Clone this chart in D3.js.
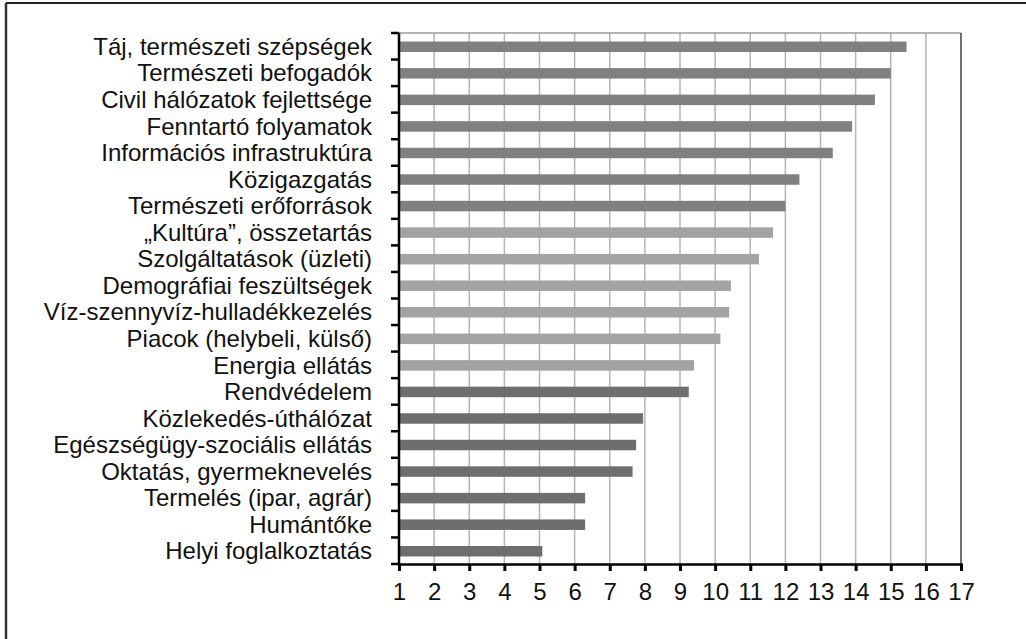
<!DOCTYPE html>
<html>
<head>
<meta charset="utf-8">
<script src="https://cdn.jsdelivr.net/npm/d3@7"></script>
<style>
  body { margin: 0; background: #fff; }
  text { font-family: "Liberation Sans", Arial, sans-serif; fill: #111; }
</style>
</head>
<body>
<svg id="chart" width="1026" height="639"></svg>
<script>
  const categories = [
    "Táj, természeti szépségek",
    "Természeti befogadók",
    "Civil hálózatok fejlettsége",
    "Fenntartó folyamatok",
    "Információs infrastruktúra",
    "Közigazgatás",
    "Természeti erőforrások",
    "„Kultúra”, összetartás",
    "Szolgáltatások (üzleti)",
    "Demográfiai feszültségek",
    "Víz-szennyvíz-hulladékkezelés",
    "Piacok (helybeli, külső)",
    "Energia ellátás",
    "Rendvédelem",
    "Közlekedés-úthálózat",
    "Egészségügy-szociális ellátás",
    "Oktatás, gyermeknevelés",
    "Termelés (ipar, agrár)",
    "Humántőke",
    "Helyi foglalkoztatás"
  ];
  const values = [15.45, 15.0, 14.55, 13.9, 13.35, 12.4, 12.0, 11.65, 11.25, 10.45,
                  10.4, 10.15, 9.4, 9.25, 7.95, 7.75, 7.65, 6.3, 6.3, 5.08];
  // shade group of each bar
  const groups = [0, 0, 0, 0, 0, 0, 0, 1, 1, 1, 1, 1, 1, 2, 2, 2, 2, 2, 2, 2];
  const xTicks = d3.range(1, 18);

  const data = categories.map((c, i) => ({ name: c, value: values[i], group: groups[i] }));

  const margin = {top: 33, left: 399, right: 65, bottom: 75},
        width = 1026 - margin.left - margin.right,
        height = 639 - margin.top - margin.bottom;

  const shades = ["#808080", "#a3a3a3", "#6e6e6e"];

  const svg = d3.select("#chart");

  // outer frame (top and left edges only)
  svg.append("line").attr("x1", 6).attr("x2", 1026).attr("y1", 3).attr("y2", 3)
     .attr("stroke", "#222").attr("stroke-width", 2);
  svg.append("line").attr("x1", 6).attr("x2", 6).attr("y1", 3).attr("y2", 639)
     .attr("stroke", "#333").attr("stroke-width", 2.5);

  const chart = svg.append("g")
                   .attr("transform", "translate(" + margin.left + "," + margin.top + ")");

  const x = d3.scaleLinear().domain([1, 17]).range([0, width]);
  const y = d3.scaleBand().domain(categories).range([0, height]);

  // grid lines
  chart.append("g")
       .selectAll("line")
       .data(xTicks.slice(1, -1))
       .join("line")
       .attr("x1", d => x(d)).attr("x2", d => x(d))
       .attr("y1", 0).attr("y2", height)
       .attr("stroke", "#b5b5b5")
       .attr("stroke-width", 1.5);

  // plot border top and right
  chart.append("line").attr("x1", 0).attr("x2", width).attr("y1", 0).attr("y2", 0)
       .attr("stroke", "#9a9a9a").attr("stroke-width", 1.5);
  chart.append("line").attr("x1", width).attr("x2", width).attr("y1", 0).attr("y2", height)
       .attr("stroke", "#707070").attr("stroke-width", 2);

  // bars
  const barH = 10.5;
  chart.append("g")
       .selectAll("rect")
       .data(data)
       .join("rect")
       .attr("x", x(1))
       .attr("y", d => y(d.name) + (y.bandwidth() - barH) / 2 + 0.5)
       .attr("width", d => x(d.value) - x(1))
       .attr("height", barH)
       .attr("fill", d => shades[d.group]);

  // y axis: ticks at category boundaries
  const yAxis = chart.append("g");
  yAxis.append("line").attr("x1", 0).attr("x2", 0).attr("y1", 0).attr("y2", height)
       .attr("stroke", "#000").attr("stroke-width", 2.5);
  yAxis.selectAll("line.tick")
       .data(d3.range(categories.length + 1))
       .join("line")
       .attr("class", "tick")
       .attr("x1", -8).attr("x2", 0)
       .attr("y1", i => i * y.step()).attr("y2", i => i * y.step())
       .attr("stroke", "#000").attr("stroke-width", 2.5);
  yAxis.selectAll("text")
       .data(categories)
       .join("text")
       .attr("x", -27)
       .attr("y", d => y(d) + y.bandwidth() / 2)
       .attr("dy", "0.36em")
       .attr("text-anchor", "end")
       .attr("font-size", 24)
       .text(d => d);

  // x axis
  const xAxis = d3.axisBottom(x)
                  .tickValues(xTicks)
                  .tickSize(7)
                  .tickPadding(12)
                  .tickFormat(d3.format("d"));
  const gx = chart.append("g")
                  .attr("transform", "translate(0," + height + ")")
                  .call(xAxis);
  gx.select(".domain").attr("stroke", "#000").attr("stroke-width", 2.5);
  gx.selectAll(".tick line").attr("stroke", "#000").attr("stroke-width", 3);
  gx.selectAll(".tick text")
    .attr("font-size", 24)
    .attr("font-family", "Liberation Sans, Arial, sans-serif")
    .attr("fill", "#111");
</script>
</body>
</html>
